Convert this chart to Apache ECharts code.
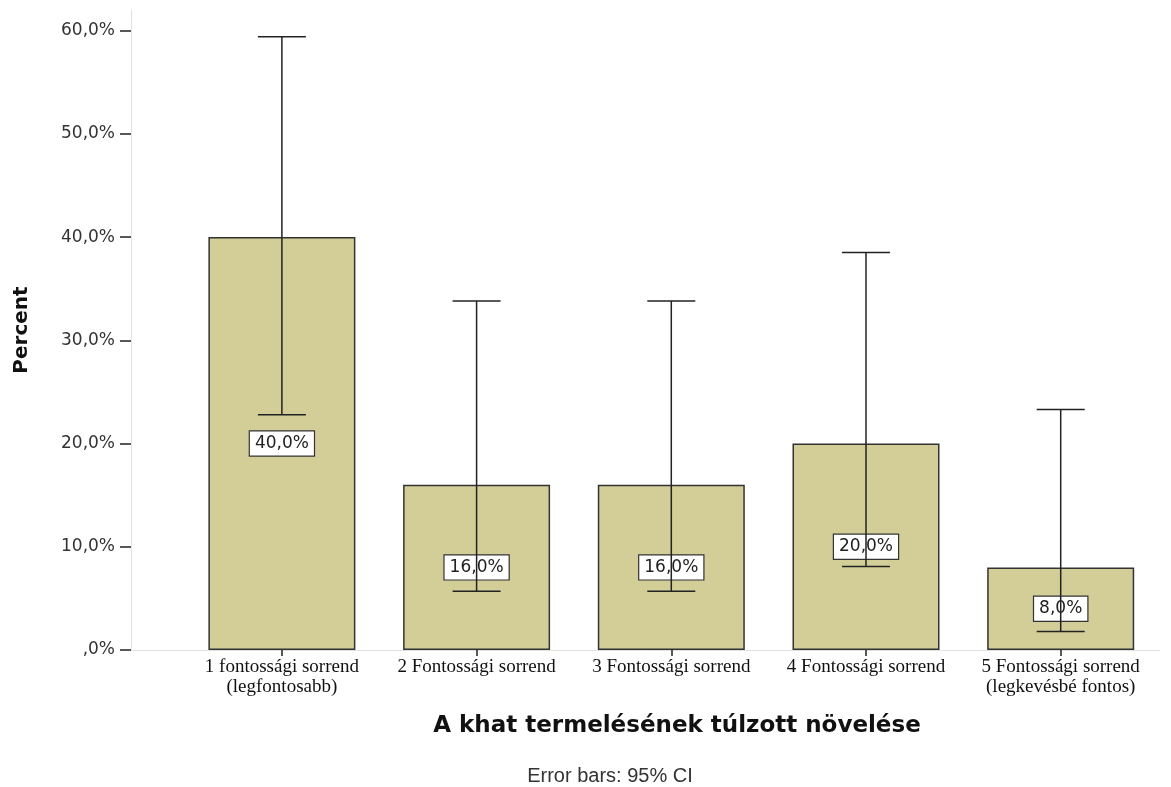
<!DOCTYPE html>
<html>
<head>
<meta charset="utf-8">
<script src="https://cdn.jsdelivr.net/npm/echarts@6/dist/echarts.min.js"></script>
<style>
  html, body { margin: 0; padding: 0; background: #fff; }
  #chart { width: 1171px; height: 787px; }
</style>
</head>
<body>
<div id="chart"></div>
<script>
// kategóriák és értékek (%)
const categories = [
  '1 fontossági sorrend\n(legfontosabb)',
  '2 Fontossági sorrend',
  '3 Fontossági sorrend',
  '4 Fontossági sorrend',
  '5 Fontossági sorrend\n(legkevésbé fontos)'
];
const percents = [40, 16, 16, 20, 8];
// 95% CI határok
const ciLow = [22.8, 5.7, 5.7, 8.1, 1.8];
const ciHigh = [59.4, 33.8, 33.8, 38.5, 23.3];
const yTicks = [0, 10, 20, 30, 40, 50, 60];

const fmt = v => v === 0 ? ',0%' : v.toFixed(1).replace('.', ',') + '%';

const chart = echarts.init(document.getElementById('chart'));

const option = {
  animation: false,
  grid: { left: 131, right: 11, top: 10, bottom: 137 },
  title: [
    {
      text: 'A khat termelésének túlzott növelése',
      left: 672, top: 710, textAlign: 'center',
      textStyle: { fontFamily: 'DejaVu Sans', fontSize: 23, fontWeight: 'bold', color: '#111' }
    },
    {
      text: 'Error bars: 95% CI',
      left: 605, top: 761, textAlign: 'center',
      textStyle: { fontFamily: 'Liberation Sans', fontSize: 20, fontWeight: 'normal', color: '#333' }
    }
  ],
  xAxis: {
    type: 'value',
    min: -0.775,
    max: 4.51,
    axisLine: { show: true, onZero: false, lineStyle: { color: '#e2e2e2', width: 1 } },
    splitLine: { show: false },
    axisTick: {
      show: true, length: 6, customValues: [0, 1, 2, 3, 4],
      lineStyle: { color: '#222', width: 1.5 }
    },
    axisLabel: {
      customValues: [0, 1, 2, 3, 4],
      formatter: v => categories[v],
      margin: 7,
      fontFamily: 'Liberation Serif',
      fontSize: 19,
      lineHeight: 20,
      color: '#111'
    }
  },
  yAxis: {
    type: 'value',
    min: 0,
    max: 62,
    name: 'Percent',
    nameLocation: 'middle',
    nameGap: 99,
    nameTextStyle: { fontFamily: 'DejaVu Sans', fontSize: 20, fontWeight: 'bold', color: '#111' },
    axisLine: { show: true, onZero: false, lineStyle: { color: '#e2e2e2', width: 1 } },
    splitLine: { show: false },
    axisTick: {
      show: true, length: 11, customValues: yTicks,
      lineStyle: { color: '#222', width: 1.5 }
    },
    axisLabel: {
      customValues: yTicks,
      formatter: fmt,
      margin: 16,
      fontFamily: 'DejaVu Sans',
      fontSize: 17,
      color: '#333'
    }
  },
  series: [
    {
      type: 'bar',
      barWidth: 147,
      z: 2,
      data: percents.map((p, i) => [i, p]),
      itemStyle: { color: '#d3ce97', borderColor: '#333', borderWidth: 1.5 },
      label: {
        show: true,
        position: 'inside',
        formatter: p => fmt(p.value[1]),
        fontFamily: 'DejaVu Sans',
        fontSize: 17,
        color: '#222',
        backgroundColor: '#fff',
        borderColor: '#333',
        borderWidth: 1.2,
        padding: [4, 5, 3, 5]
      }
    },
    {
      type: 'custom',
      z: 5,
      data: ciLow.map((lo, i) => [i, lo, ciHigh[i]]),
      renderItem: (params, api) => {
        const x = api.value(0);
        const lo = api.coord([x, api.value(1)]);
        const hi = api.coord([x, api.value(2)]);
        const half = 24;
        const style = { stroke: '#222', lineWidth: 1.5 };
        return {
          type: 'group',
          children: [
            { type: 'line', shape: { x1: hi[0], y1: hi[1], x2: lo[0], y2: lo[1] }, style },
            { type: 'line', shape: { x1: hi[0] - half, y1: hi[1], x2: hi[0] + half, y2: hi[1] }, style },
            { type: 'line', shape: { x1: lo[0] - half, y1: lo[1], x2: lo[0] + half, y2: lo[1] }, style }
          ]
        };
      }
    }
  ]
};

chart.setOption(option);
</script>
</body>
</html>
